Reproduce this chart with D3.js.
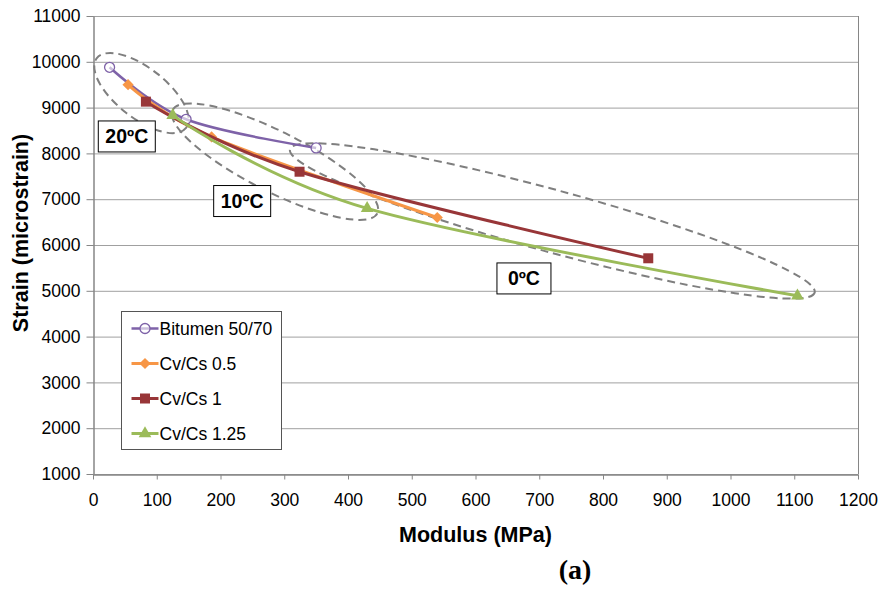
<!DOCTYPE html>
<html>
<head>
<meta charset="utf-8">
<script src="https://cdn.jsdelivr.net/npm/d3@7"></script>
<style>
  html, body { margin: 0; padding: 0; background: #fff; }
  svg { display: block; }
  text { font-family: "Liberation Sans", Arial, sans-serif; fill: #000; }
</style>
</head>
<body>
<svg id="chart" width="878" height="589"></svg>
<script>
// Strain vs. modulus at 20, 10 and 0 °C
const seriesNames = ["Bitumen 50/70", "Cv/Cs 0.5", "Cv/Cs 1", "Cv/Cs 1.25"];
const bitumenModulus = [26, 146, 350];
const bitumenStrain  = [9880, 8745, 8120];
const cv05Modulus = [55, 186, 540];
const cv05Strain  = [9500, 8360, 6600];
const cv1Modulus = [83, 324, 871];
const cv1Strain  = [9130, 7600, 5710];
const cv125Modulus = [125, 430, 1105];
const cv125Strain  = [8830, 6800, 4890];

const xTicks = [0, 100, 200, 300, 400, 500, 600, 700, 800, 900, 1000, 1100, 1200];
const yTicks = [1000, 2000, 3000, 4000, 5000, 6000, 7000, 8000, 9000, 10000, 11000];

// temperature groups: label, label anchor (modulus, strain), ellipse end points
const tempLabels = ["20ºC", "10ºC", "0ºC"];
const labelAnchors = [[53, 8370], [234, 6960], [676, 5270]];
const groupEnds = [
  [[6, 10080], [146, 8555]],
  [[125, 8950], [446, 6690]],
  [[309, 8090], [1132, 4960]]
];

const svg = d3.select("#chart");
const plot = { left: 93, right: 858, top: 16, bottom: 474 };

const x = d3.scaleLinear().domain([0, 1200]).range([plot.left, plot.right]);
const y = d3.scaleLinear().domain([1000, 11000]).range([plot.bottom, plot.top]);

// horizontal gridlines
svg.append("g").selectAll("line").data(yTicks).join("line")
  .attr("x1", plot.left).attr("x2", plot.right)
  .attr("y1", d => y(d) + 0.5).attr("y2", d => y(d) + 0.5)
  .attr("stroke", "#a0a0a0").attr("stroke-width", 1);

// right edge of plot area
svg.append("line")
  .attr("x1", plot.right + 0.5).attr("x2", plot.right + 0.5)
  .attr("y1", plot.top).attr("y2", plot.bottom)
  .attr("stroke", "#868686");

// axes
const fmt = d3.format("d");
const xAxis = d3.axisBottom(x).tickValues(xTicks).tickFormat(fmt).tickSizeInner(5).tickSizeOuter(0).tickPadding(14);
const yAxis = d3.axisLeft(y).tickValues(yTicks).tickFormat(fmt).tickSizeInner(7).tickSizeOuter(0).tickPadding(6);

const gx = svg.append("g").attr("transform", `translate(0,${plot.bottom + 0.5})`).call(xAxis);
const gy = svg.append("g").attr("transform", `translate(${plot.left + 0.5},0)`).call(yAxis);
[gx, gy].forEach(g => {
  g.selectAll("path.domain").attr("stroke", "#868686").attr("stroke-width", 1.5);
  g.selectAll(".tick line").attr("stroke", "#868686");
  g.selectAll(".tick text")
    .style("font-family", "'Liberation Sans', Arial, sans-serif")
    .style("font-size", "17.5px").attr("fill", "#000");
});

// axis titles
svg.append("text")
  .attr("x", x(600)).attr("y", 542)
  .attr("text-anchor", "middle")
  .style("font-size", "21.5px").style("font-weight", "bold")
  .text("Modulus (MPa)");
svg.append("text")
  .attr("transform", `translate(28,233) rotate(-90)`)
  .attr("text-anchor", "middle")
  .style("font-size", "21.5px").style("font-weight", "bold")
  .text("Strain (microstrain)");

// dashed ellipses around each temperature group
const ellipses = svg.append("g");
groupEnds.forEach((ends, i) => {
  const halfWidths = [25, 30, 31];
  const p1 = [x(ends[0][0]), y(ends[0][1])];
  const p2 = [x(ends[1][0]), y(ends[1][1])];
  const cx = (p1[0] + p2[0]) / 2, cy = (p1[1] + p2[1]) / 2;
  const rx = Math.hypot(p2[0] - p1[0], p2[1] - p1[1]) / 2;
  const ang = Math.atan2(p2[1] - p1[1], p2[0] - p1[0]) * 180 / Math.PI;
  ellipses.append("ellipse")
    .attr("cx", 0).attr("cy", 0).attr("rx", rx).attr("ry", halfWidths[i])
    .attr("transform", `translate(${cx},${cy}) rotate(${ang})`)
    .attr("fill", "none").attr("stroke", "#7f7f7f")
    .attr("stroke-width", 2).attr("stroke-dasharray", "8,5");
});

// series
const series = [
  { name: seriesNames[0], xs: bitumenModulus, ys: bitumenStrain, color: "#7e62a8", width: 2.5, marker: "circle" },
  { name: seriesNames[1], xs: cv05Modulus, ys: cv05Strain, color: "#f79646", width: 3, marker: "diamond" },
  { name: seriesNames[2], xs: cv1Modulus, ys: cv1Strain, color: "#983638", width: 3, marker: "square" },
  { name: seriesNames[3], xs: cv125Modulus, ys: cv125Strain, color: "#9bbb59", width: 3, marker: "triangle" }
];

const line = d3.line().curve(d3.curveCardinal.tension(0)).x(d => x(d[0])).y(d => y(d[1]));

function drawMarker(g, type, color, cx, cy) {
  if (type === "circle") {
    g.append("circle").attr("cx", cx).attr("cy", cy).attr("r", 5)
      .attr("fill", "#fff").attr("fill-opacity", 0.6).attr("stroke", color).attr("stroke-width", 1.3);
  } else if (type === "diamond") {
    g.append("path").attr("d", d3.symbol(d3.symbolDiamond2, 80)())
      .attr("transform", `translate(${cx},${cy})`).attr("fill", color);
  } else if (type === "square") {
    g.append("rect").attr("x", cx - 5).attr("y", cy - 5).attr("width", 10).attr("height", 10).attr("fill", color);
  } else {
    g.append("path").attr("d", d3.symbol(d3.symbolTriangle, 70)())
      .attr("transform", `translate(${cx},${cy})`).attr("fill", color);
  }
}

series.forEach(s => {
  const pts = s.xs.map((v, i) => [v, s.ys[i]]);
  const g = svg.append("g");
  g.append("path").attr("d", line(pts))
    .attr("fill", "none").attr("stroke", s.color).attr("stroke-width", s.width);
  pts.forEach(p => drawMarker(g, s.marker, s.color, x(p[0]), y(p[1])));
});

// temperature label boxes
tempLabels.forEach((t, i) => {
  const cx = x(labelAnchors[i][0]), cy = y(labelAnchors[i][1]);
  const w = i === 2 ? 54 : 57, h = 31;
  const g = svg.append("g");
  g.append("rect").attr("x", cx - w / 2).attr("y", cy - h / 2).attr("width", w).attr("height", h)
    .attr("fill", "#fff").attr("stroke", "#000").attr("stroke-width", 1);
  g.append("text").attr("x", cx).attr("y", cy + 7)
    .attr("text-anchor", "middle")
    .style("font-size", "19.5px").style("font-weight", "bold")
    .text(t);
});

// legend
const legend = svg.append("g").attr("transform", "translate(121.5,311.5)");
legend.append("rect").attr("width", 160).attr("height", 138)
  .attr("fill", "#fff").attr("stroke", "#555").attr("stroke-width", 1);
series.forEach((s, i) => {
  const ly = 17 + i * 35;
  legend.append("line").attr("x1", 10).attr("x2", 37).attr("y1", ly).attr("y2", ly)
    .attr("stroke", s.color).attr("stroke-width", s.width);
  drawMarker(legend, s.marker, s.color, 23.5, ly);
  legend.append("text").attr("x", 38).attr("y", ly + 6)
    .style("font-size", "17.5px").text(s.name);
});

// panel tag
svg.append("text")
  .attr("x", 575).attr("y", 579)
  .attr("text-anchor", "middle")
  .style("font-family", "'Liberation Serif', 'Times New Roman', serif")
  .style("font-size", "28px").style("font-weight", "bold")
  .text("(a)");
</script>
</body>
</html>
